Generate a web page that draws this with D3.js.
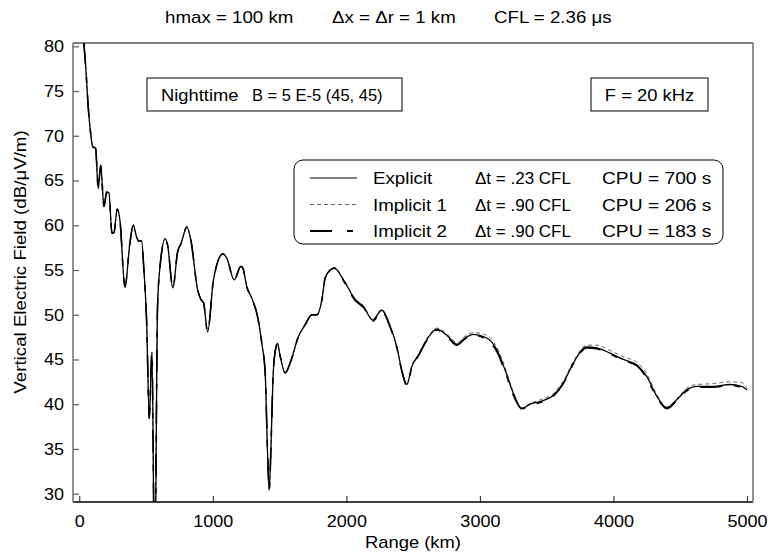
<!DOCTYPE html>
<html>
<head>
<meta charset="utf-8">
<script src="https://cdn.jsdelivr.net/npm/d3@7"></script>
<style>
  body { margin: 0; background: #fff; }
  svg text { font-family: "Liberation Sans", Arial, sans-serif; fill: #000; }
</style>
</head>
<body>
<div id="graph"></div>
<script>
// range in km, field in dB/uV/m
const rangeKm = [10, 20, 35, 50, 67, 85, 100, 122, 142, 160, 185, 205, 222, 245, 260, 284, 304, 342, 379, 404,
  429, 447, 466, 484, 505, 524, 544, 565, 586, 606, 644, 661, 701, 736, 763, 806, 836, 886, 911, 931,
  961, 1005, 1075, 1105, 1160, 1210, 1225, 1255, 1293, 1335, 1367, 1392, 1410, 1422, 1437, 1450, 1467, 1485, 1500, 1542,
  1579, 1642, 1692, 1742, 1779, 1817, 1841, 1879, 1910, 1978, 2066, 2128, 2198, 2265, 2328, 2378, 2415, 2453, 2490, 2540,
  2602, 2677, 2752, 2827, 2889, 2952, 3051, 3126, 3189, 3251, 3313, 3376, 3451, 3550, 3625, 3700, 3800, 3875, 3975, 4074,
  4174, 4249, 4324, 4399, 4474, 4549, 4624, 4748, 4873, 4960, 5000];

const explicitDb = [92, 85, 80.4, 77.3, 73.2, 70.3, 68.8, 68.6, 64.1, 66.7, 62.1, 63.7, 63.6, 59.1, 59.2, 61.8, 60.6, 53.1, 58.0, 60.0,
  58.7, 58.2, 58.3, 55.0, 49.0, 38.4, 45.8, 20, 50.9, 55.6, 58.5, 57.8, 53.0, 57.0, 58.0, 59.8, 58.3, 52.8, 51.7, 51.3,
  48.1, 53.9, 56.8, 56.3, 53.9, 55.4, 55.2, 53.1, 51.8, 49.8, 46.8, 43.5, 34.5, 30.4, 36.0, 42.7, 45.9, 46.8, 45.7, 43.5,
  44.6, 47.6, 48.9, 50.0, 50.0, 51.7, 54.1, 55.0, 55.2, 53.9, 51.7, 50.9, 49.4, 50.5, 48.7, 46.4, 43.8, 42.2, 44.2, 45.5,
  47.2, 48.4, 47.7, 46.7, 47.4, 47.8, 47.4, 46.1, 43.8, 41.2, 39.5, 40.0, 40.3, 41.0, 42.4, 44.6, 46.4, 46.3, 45.7, 45.0,
  44.4, 43.1, 40.9, 39.6, 40.5, 41.6, 42.0, 42.0, 42.2, 42.0, 41.6];

const implicit1Db = [92, 85, 80.4, 77.3, 73.2, 70.3, 68.8, 68.6, 64.1, 66.7, 62.1, 63.7, 63.6, 59.1, 59.2, 61.8, 60.6, 53.1, 58.0, 60.0,
  58.7, 58.2, 58.3, 55.0, 49.0, 38.4, 45.8, 20, 50.9, 55.6, 58.5, 57.8, 53.0, 57.0, 58.0, 59.8, 58.3, 52.8, 51.7, 51.3,
  48.1, 53.9, 56.8, 56.3, 53.9, 55.4, 55.2, 53.1, 51.8, 49.8, 46.8, 43.5, 34.5, 30.4, 36.0, 42.7, 45.9, 46.8, 45.7, 43.5,
  44.6, 47.6, 48.9, 50.0, 50.0, 51.7, 54.1, 55.0, 55.3, 54.0, 51.8, 51.0, 49.5, 50.6, 48.8, 46.4, 43.8, 42.3, 44.3, 45.6,
  47.3, 48.5, 47.9, 46.9, 47.6, 48.0, 47.7, 46.4, 44.1, 41.3, 39.6, 40.1, 40.5, 41.2, 42.6, 44.8, 46.6, 46.6, 46.0, 45.3,
  44.7, 43.4, 41.1, 39.7, 40.6, 41.8, 42.2, 42.3, 42.5, 42.4, 41.8];

const implicit2Db = [92, 85, 80.4, 77.3, 73.2, 70.3, 68.8, 68.6, 64.1, 66.7, 62.1, 63.7, 63.6, 59.1, 59.2, 61.8, 60.6, 53.1, 58.0, 60.0,
  58.7, 58.2, 58.3, 55.0, 49.0, 38.4, 45.8, 20, 50.9, 55.6, 58.5, 57.8, 53.0, 57.0, 58.0, 59.8, 58.3, 52.8, 51.7, 51.3,
  48.1, 53.9, 56.8, 56.3, 53.9, 55.4, 55.2, 53.1, 51.8, 49.8, 46.8, 43.5, 34.5, 30.4, 36.0, 42.7, 45.9, 46.8, 45.7, 43.5,
  44.6, 47.6, 48.9, 50.0, 50.0, 51.7, 54.1, 55.0, 55.2, 53.8, 51.6, 50.8, 49.3, 50.4, 48.6, 46.3, 43.7, 42.1, 44.1, 45.4,
  47.1, 48.3, 47.6, 46.6, 47.3, 47.7, 47.2, 45.9, 43.6, 41.0, 39.5, 39.9, 40.2, 40.9, 42.3, 44.5, 46.3, 46.2, 45.6, 44.9,
  44.3, 42.9, 40.8, 39.5, 40.4, 41.5, 41.9, 41.9, 42.1, 41.9, 41.5];

const xTicks = [0, 1000, 2000, 3000, 4000, 5000];
const yTicks = [30, 35, 40, 45, 50, 55, 60, 65, 70, 75, 80];

const legendNames = ['Explicit', 'Implicit 1', 'Implicit 2'];
const legendDt = ['\u0394t = .23 CFL', '\u0394t = .90 CFL', '\u0394t = .90 CFL'];
const legendCpu = ['CPU = 700 s', 'CPU = 206 s', 'CPU = 183 s'];

const W = 771, H = 555;
const plotL = 73, plotR = 753, plotT = 43, plotB = 502;
const FONT = '"Liberation Sans", Arial, sans-serif';

// the original lettering is a bit wider than Liberation Sans
const widen = (sel, k) => sel.each(function () {
  const w = this.getComputedTextLength();
  d3.select(this).attr('textLength', w * k).attr('lengthAdjust', 'spacingAndGlyphs');
});

const svg = d3.select('#graph').append('svg').attr('width', W).attr('height', H);

const x = d3.scaleLinear().domain([-47, 5045]).range([plotL, plotR]);
const y = d3.scaleLinear().domain([29.07, 80.37]).range([plotB, plotT]);

svg.append('clipPath').attr('id', 'plot-clip')
  .append('rect').attr('x', plotL).attr('y', plotT).attr('width', plotR - plotL).attr('height', plotB - plotT);

// axes, ticks point inward
const yAxis = svg.append('g').attr('transform', `translate(${plotL},0)`)
  .call(d3.axisLeft(y).tickValues(yTicks).tickSize(-6).tickPadding(9));
const xAxis = svg.append('g').attr('transform', `translate(0,${plotB})`)
  .call(d3.axisBottom(x).tickValues(xTicks).tickSize(-6).tickPadding(13).tickFormat(d3.format('d')));
[yAxis, xAxis].forEach(a => {
  a.select('.domain').remove();
  a.selectAll('text').attr('font-size', 17).attr('font-family', FONT).attr('fill', '#000');
  widen(a.selectAll('text'), 1.06);
});
yAxis.selectAll('line').attr('stroke', '#666').attr('stroke-width', 1.3);
xAxis.selectAll('line').attr('stroke', '#333').attr('stroke-width', 1.1);

// frame
svg.append('line').attr('x1', plotL).attr('x2', plotR).attr('y1', plotT).attr('y2', plotT).attr('stroke', '#000').attr('stroke-width', 1.2);
svg.append('line').attr('x1', plotL).attr('x2', plotR).attr('y1', plotB).attr('y2', plotB).attr('stroke', '#000').attr('stroke-width', 1.3);
svg.append('line').attr('x1', plotL).attr('x2', plotL).attr('y1', plotT).attr('y2', plotB).attr('stroke', '#777').attr('stroke-width', 1.6);
svg.append('line').attr('x1', plotR).attr('x2', plotR).attr('y1', plotT).attr('y2', plotB).attr('stroke', '#777').attr('stroke-width', 1.6);

// curves
const line = vals => d3.line()
  .x((d, i) => x(rangeKm[i]))
  .y(d => y(d))
  .curve(d3.curveMonotoneX)(vals);

const curves = svg.append('g').attr('clip-path', 'url(#plot-clip)').attr('fill', 'none');
curves.append('path').attr('d', line(implicit1Db)).attr('stroke', '#666').attr('stroke-width', 1).attr('stroke-dasharray', '4,3');
curves.append('path').attr('d', line(explicitDb)).attr('stroke', '#000').attr('stroke-width', 1.3);
curves.append('path').attr('d', line(implicit2Db)).attr('stroke', '#000').attr('stroke-width', 1.6).attr('stroke-dasharray', '22,12,6,12');

// title
const title = svg.append('g').attr('font-size', 17);
title.append('text').attr('x', 165).attr('y', 23).text('hmax = 100 km');
title.append('text').attr('x', 332).attr('y', 23).text('\u0394x = \u0394r = 1 km');
title.append('text').attr('x', 494).attr('y', 23).text('CFL = 2.36 \u03bcs');
widen(title.selectAll('text'), 1.1);

// axis titles
const xTitle = svg.append('text').attr('x', 413).attr('y', 548).attr('text-anchor', 'middle').attr('font-size', 17).text('Range (km)');
const yTitle = svg.append('text').attr('transform', 'translate(26,262) rotate(-90)').attr('text-anchor', 'middle').attr('font-size', 17)
  .text('Vertical Electric Field (dB/\u03bcV/m)');
widen(xTitle, 1.08);
widen(yTitle, 1.1);

// info boxes
svg.append('rect').attr('x', 147).attr('y', 78).attr('width', 255).attr('height', 33).attr('fill', '#fff').attr('stroke', '#000').attr('stroke-width', 1);
const night = svg.append('text').attr('x', 161).attr('y', 101).attr('font-size', 17).text('Nighttime');
const bText = svg.append('text').attr('x', 252).attr('y', 101).attr('font-size', 17).text('B = 5 E-5 (45, 45)');
widen(night, 1.08);
widen(bText, 0.97);
svg.append('rect').attr('x', 591).attr('y', 78).attr('width', 117).attr('height', 33).attr('fill', '#fff').attr('stroke', '#000').attr('stroke-width', 1);
const fText = svg.append('text').attr('x', 649.5).attr('y', 101).attr('text-anchor', 'middle').attr('font-size', 17).text('F = 20 kHz');
widen(fText, 1.08);

// legend
const lg = svg.append('g');
lg.append('rect').attr('x', 294).attr('y', 160).attr('width', 429).attr('height', 84).attr('rx', 9)
  .attr('fill', '#fff').attr('stroke', '#000').attr('stroke-width', 1);
const legendStyles = [
  { stroke: '#000', width: 1.2, dash: null },
  { stroke: '#666', width: 1, dash: '4,3' },
  { stroke: '#000', width: 1.8, dash: '22,15,6,20' }
];
legendNames.forEach((name, i) => {
  const ly = 178 + i * 26.5;
  const s = legendStyles[i];
  lg.append('line').attr('x1', 310).attr('x2', 357).attr('y1', ly).attr('y2', ly)
    .attr('stroke', s.stroke).attr('stroke-width', s.width).attr('stroke-dasharray', s.dash);
  widen(lg.append('text').attr('x', 373).attr('y', ly + 6).attr('font-size', 17).text(name), 1.1);
  lg.append('text').attr('x', 475).attr('y', ly + 6).attr('font-size', 17).text(legendDt[i]);
  widen(lg.append('text').attr('x', 602).attr('y', ly + 6).attr('font-size', 17).text(legendCpu[i]), 1.13);
});
</script>
</body>
</html>
